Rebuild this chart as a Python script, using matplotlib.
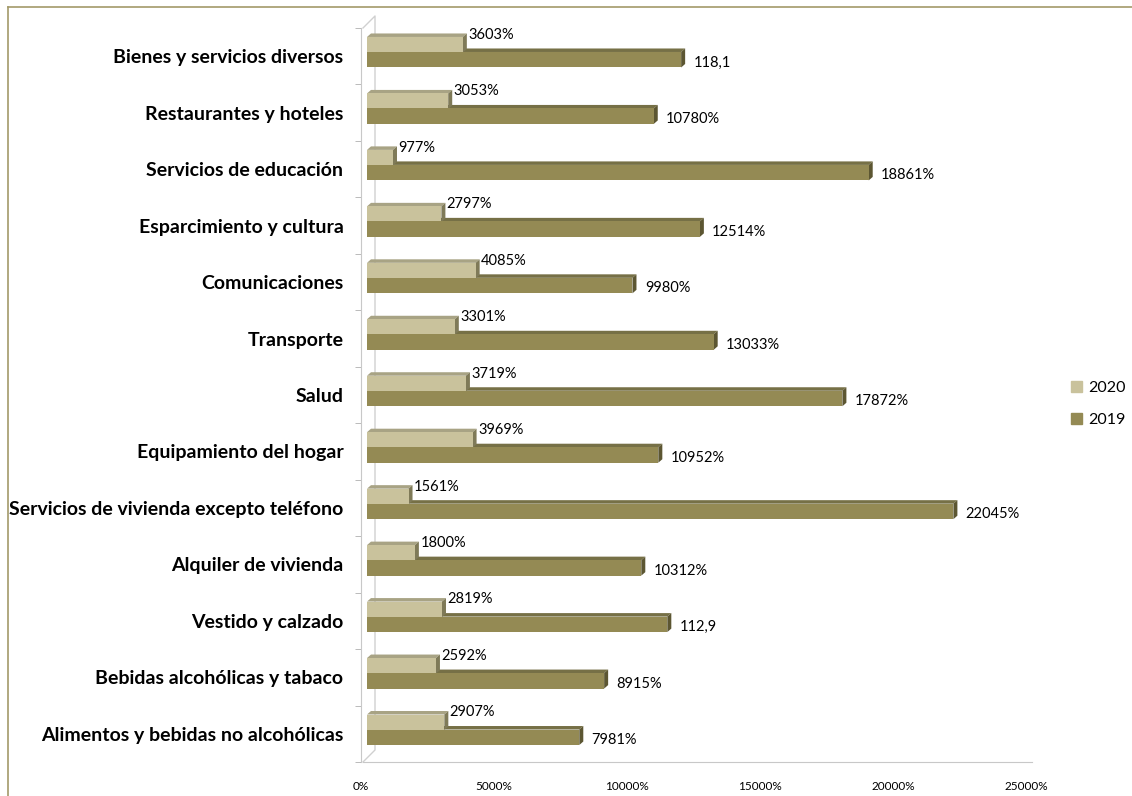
import matplotlib.pyplot as plt
from matplotlib.patches import Polygon, Patch
from matplotlib.lines import Line2D
from matplotlib.transforms import ScaledTranslation
import matplotlib.ticker as ticker

# data, listed bottom to top as they appear on the chart
categories = ["Alimentos y bebidas no alcohólicas", "Bebidas alcohólicas y tabaco",
              "Vestido y calzado", "Alquiler de vivienda",
              "Servicios de vivienda excepto teléfono", "Equipamiento del hogar",
              "Salud", "Transporte", "Comunicaciones", "Esparcimiento y cultura",
              "Servicios de educación", "Restaurantes y hoteles",
              "Bienes y servicios diversos"]
v2020 = [2907, 2592, 2819, 1800, 1561, 3969, 3719, 3301, 4085, 2797, 977, 3053, 3603]
v2019 = [7981, 8915, 11290, 10312, 22045, 10952, 17872, 13033, 9980, 12514, 18861, 10780, 11810]
lab2020 = ["2907%", "2592%", "2819%", "1800%", "1561%", "3969%", "3719%", "3301%",
           "4085%", "2797%", "977%", "3053%", "3603%"]
lab2019 = ["7981%", "8915%", "112,9", "10312%", "22045%", "10952%", "17872%", "13033%",
           "9980%", "12514%", "18861%", "10780%", "118,1"]
xticks = [0, 5000, 10000, 15000, 20000, 25000]

W, H, DPI = 1132, 796, 100
plt.rcParams["font.family"] = ["Lato", "DejaVu Sans"]

c20 = {"front": "#c9c29c", "top": "#a8a384", "side": "#7f7a58"}
c19 = {"front": "#948a54", "top": "#767046", "side": "#5c5632"}

fig = plt.figure(figsize=(W / DPI, H / DPI), dpi=DPI)
ax = fig.add_axes([367 / W, 1 - 762 / H, 665 / W, (762 - 28) / H])
ax.set_xlim(0, 25000)
ax.set_ylim(-0.5, len(categories) - 0.5)

# pixel -> data sizes for the 3D depth
px_x = 25000 / 665
px_y = len(categories) / 734
dx, dy = 4 * px_x, 3.5 * px_y
h = 15.5 * px_y
off20, off19 = 0.204, -0.062


def bar3d(x, yc, col, z_top, z_front):
    y0, y1 = yc - h / 2, yc + h / 2
    ax.add_patch(Polygon([(0, y1), (x, y1), (x + dx, y1 + dy), (dx, y1 + dy)],
                         closed=True, fc=col["top"], ec="none", zorder=z_top))
    ax.add_patch(Polygon([(x, y0), (x, y1), (x + dx, y1 + dy), (x + dx, y0 + dy)],
                         closed=True, fc=col["side"], ec="none", zorder=z_top))
    ax.barh(yc, x, height=h, color=col["front"], zorder=z_front)


for i in range(len(categories)):
    y20 = i + off20
    y19 = i + off19
    bar3d(v2019[i], y19, c19, 1, 4)
    bar3d(v2020[i], y20, c20, 2, 3)
    ax.annotate(lab2020[i], xy=(v2020[i] + dx, y20 + h / 2), xytext=(1, 1.5),
                textcoords="offset points", ha="left", va="center", fontsize=10.5)
    ax.annotate(lab2019[i], xy=(v2019[i] + dx, y19), xytext=(6, -2),
                textcoords="offset points", ha="left", va="center", fontsize=10.5)

# axes styling
for s in ["top", "right"]:
    ax.spines[s].set_visible(False)
ax.spines["left"].set_position(("outward", 4))
ax.spines["left"].set_color("#c8c8c8")
ax.spines["bottom"].set_color("#c8c8c8")
ax.spines["bottom"].set_bounds(-4 * px_x, 25000)

ax.set_yticks(range(len(categories)))
ax.set_yticklabels(categories, fontsize=14, fontweight="bold")
ax.tick_params(axis="y", length=0, pad=13)
ax.yaxis.set_minor_locator(ticker.FixedLocator([i + 0.5 for i in range(-1, len(categories))]))
ax.tick_params(axis="y", which="minor", length=4, color="#b0b0b0")

ax.set_xticks(xticks)
ax.xaxis.set_major_formatter(ticker.FuncFormatter(lambda v, p: f"{v:.0f}%"))
ax.tick_params(axis="x", length=0, pad=14, labelsize=8.5)
for lab in ax.get_xticklabels():
    lab.set_transform(lab.get_transform() + ScaledTranslation(-6 / DPI, 0, fig.dpi_scale_trans))

# back wall of the 3D plot
ox = 12 / 665
oy = 12 / 734
lx = -4 / 665
ax.add_line(Line2D([lx, lx + ox, lx + ox, lx], [1, 1 + oy, oy, 0],
                   transform=ax.transAxes, color="#d0d0d0", lw=1, clip_on=False, zorder=0))

# legend
handles = [Patch(color=c20["front"], label="2020"), Patch(color=c19["front"], label="2019")]
fig.legend(handles=handles, loc="center left", bbox_to_anchor=(1071 / W, 1 - 404 / H),
           frameon=False, fontsize=11.5, handlelength=0.7, handleheight=0.7,
           handletextpad=0.35, labelspacing=1.1, borderaxespad=0, borderpad=0)

# outer frame (only top and left are visible)
fc = "#a39a6a"
fig.add_artist(Line2D([8 / W, 1], [1 - 7 / H, 1 - 7 / H], transform=fig.transFigure, color=fc, lw=1.2))
fig.add_artist(Line2D([8 / W, 8 / W], [0, 1 - 7 / H], transform=fig.transFigure, color=fc, lw=1.2))

fig.savefig("out.png", dpi=DPI)
